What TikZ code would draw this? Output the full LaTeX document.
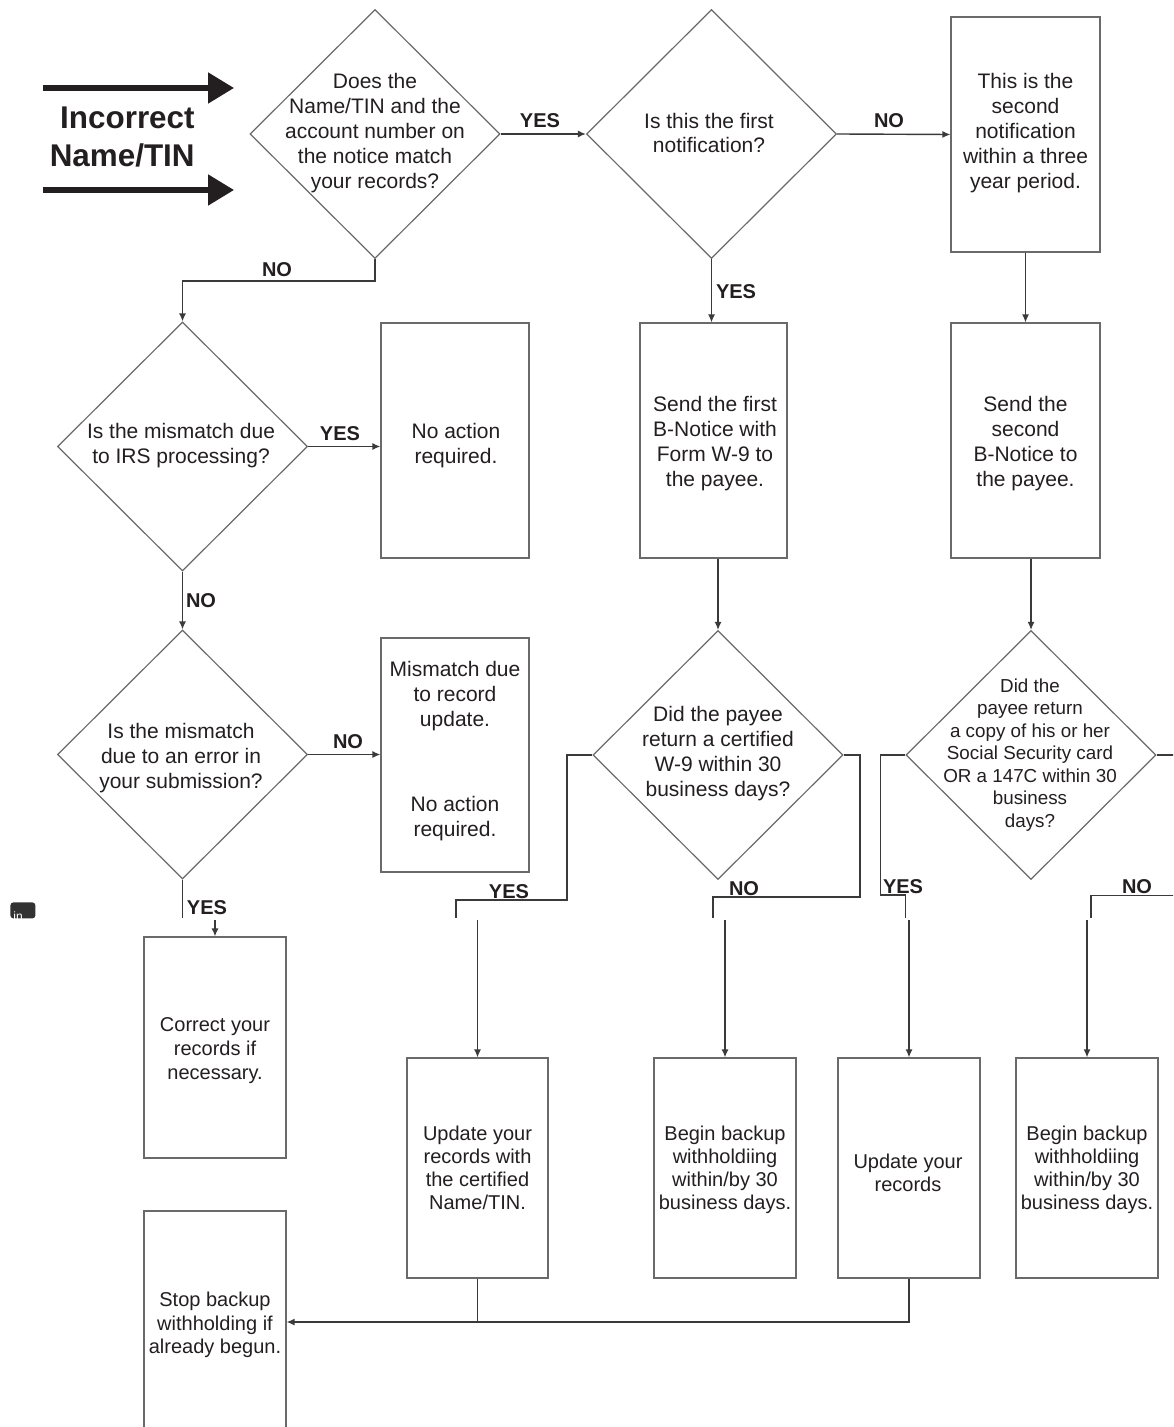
\documentclass[tikz,border=0pt]{standalone}
\usepackage{fontspec}
\setmainfont{Liberation Sans}
\usetikzlibrary{shapes.geometric,arrows.meta}
\definecolor{ink}{HTML}{231F20}
\definecolor{edge}{HTML}{6A6A6A}
\definecolor{wire}{HTML}{3A3A3A}
\begin{document}
\begin{tikzpicture}[x=0.5pt,y=-0.5pt,
  dia/.style={diamond,draw=edge,line width=0.6pt,minimum width=125pt,minimum height=124.5pt,inner sep=0pt},
  box/.style={rectangle,draw=edge,line width=0.6pt,inner sep=0pt},
  txt/.style={align=center,text=ink,inner sep=0pt,font=\fontsize{10.5}{12.5}\selectfont},
  lowtxt/.style={txt,font=\fontsize{10}{11.5}\selectfont},
  lab/.style={text=ink,inner sep=0pt,font=\bfseries\fontsize{10}{12}\selectfont},
  wire/.style={draw=wire,line width=0.7pt},
  arr/.style={wire,-{Latex[length=4pt,width=3.5pt]}},
  bigarrow/.style={draw=ink,line width=2.6pt,-{Triangle[length=13pt,width=15pt]}},
]
\useasboundingbox (0,0) rectangle (1173,1427);
\fill[white] (0,0) rectangle (1173,1427);
\clip (0,0) rectangle (1173,1427);

% title
\coordinate (t1s) at (43,88);
\coordinate (t1e) at (234,88);
\coordinate (t2s) at (43,190);
\coordinate (t2e) at (234,190);
\draw[bigarrow] (t1s) -- (t1e);
\draw[bigarrow] (t2s) -- (t2e);
\node[anchor=east,align=right,text=ink,inner sep=0pt,font=\bfseries\fontsize{15.7}{19}\selectfont] (title) at (195,137) {Incorrect\\Name/TIN};

% small icon
\node[fill={rgb,255:red,50;green,50;blue,50},rounded corners=1.5pt,minimum width=12.5pt,minimum height=8pt,inner sep=0pt,anchor=north west] (inicon) at (10,902) {};
\node[text=white,inner sep=0pt,font=\fontsize{6}{6}\selectfont,anchor=south west] (intext) at (13,921) {in};

% diamonds
\node[dia] (d1) at (375,134) {};
\node[txt] (d1t) at (375,133) {Does the\\Name/TIN and the\\account number on\\the notice match\\your records?};
\node[dia] (d2) at (711.5,134) {};
\node[txt,font=\fontsize{10.5}{12}\selectfont] (d2t) at (709,133) {Is this the first\\notification?};
\node[dia] (d3) at (182.5,446.5) {};
\node[txt] (d3t) at (181,446) {Is the mismatch due\\to IRS processing?};
\node[dia] (d4) at (182.5,754.5) {};
\node[txt] (d4t) at (181,758) {Is the mismatch\\due to an error in\\your submission?};
\node[dia] (d5) at (718,755) {};
\node[txt] (d5t) at (718,754) {Did the payee\\return a certified\\W-9 within 30\\business days?};
\node[dia] (d6) at (1031,755) {};
\node[txt,font=\fontsize{9.4}{11.25}\selectfont] (d6t) at (1030,755) {Did the\\payee return\\a copy of his or her\\Social Security card\\OR a 147C within 30\\business\\days?};

% boxes
\node[box,minimum width=74.5pt,minimum height=117.5pt] (b1) at (1025.5,134.5) {};
\node[txt] (b1t) at (1025.5,133) {This is the\\second\\notification\\within a three\\year period.};
\node[box,minimum width=74pt,minimum height=117.5pt] (b2) at (455,440.5) {};
\node[txt] (b2t) at (456,445.5) {No action\\required.};
\node[box,minimum width=73.5pt,minimum height=117.5pt] (b3) at (713.5,440.5) {};
\node[txt] (b3t) at (715,443.5) {Send the first\\B-Notice with\\Form W-9 to\\the payee.};
\node[box,minimum width=74.5pt,minimum height=117.5pt] (b4) at (1025.5,440.5) {};
\node[txt] (b4t) at (1025.5,443.5) {Send the\\second\\B-Notice to\\the payee.};
\node[box,minimum width=74pt,minimum height=117pt] (b5) at (455,755) {};
\node[txt] (b5ta) at (455,696) {Mismatch due\\to record\\update.};
\node[txt] (b5tb) at (455,818.5) {No action\\required.};
\node[box,minimum width=71pt,minimum height=110.5pt] (b6) at (215,1047.5) {};
\node[txt,font=\fontsize{10}{12}\selectfont] (b6t) at (215,1051) {Correct your\\records if\\necessary.};
\node[box,minimum width=70.5pt,minimum height=110pt] (b7) at (477.5,1168) {};
\node[lowtxt] (b7t) at (477.5,1168) {Update your\\records with\\the certified\\Name/TIN.};
\node[box,minimum width=71pt,minimum height=110pt] (b8) at (725,1168) {};
\node[lowtxt] (b8t) at (725,1170) {Begin backup\\withholdiing\\within/by 30\\business days.};
\node[box,minimum width=71pt,minimum height=110pt] (b9) at (909,1168) {};
\node[lowtxt] (b9t) at (908,1173) {Update your\\records};
\node[box,minimum width=71pt,minimum height=110pt] (b10) at (1087,1168) {};
\node[lowtxt] (b10t) at (1087,1170) {Begin backup\\withholdiing\\within/by 30\\business days.};
\node[box,minimum width=71pt,minimum height=111pt] (b11) at (215,1322) {};
\node[txt,font=\fontsize{10}{11.75}\selectfont] (b11t) at (215,1325) {Stop backup\\withholding if\\already begun.};

% connectors, top part
\draw[arr] (d1.east) -- (d2.west);
\draw[arr] (d2.east) -- (b1.west);
\draw[arr] (d1.south) -- ++(0,22) -| (d3.north);
\draw[arr] (d2.south) -- (d2.south |- b3.north);
\draw[arr] (b1.south) -- (b4.north);
\draw[arr] (d3.east) -- (d3.east -| b2.west);
\draw[arr] (d3.south) -- (d4.north);
\draw[arr] (d4.east) -- (d4.east -| b5.west);
\draw[arr] (b3.south -| d5.north) -- (d5.north);
\draw[arr] (b4.south -| d6.north) -- (d6.north);

% broken connectors (page seam)
\coordinate (c4a) at (182.5,918);
\coordinate (c4b) at (215,920);
\draw[wire] (d4.south) -- (c4a);
\draw[arr] (c4b) -- (b6.north);

\coordinate (y5k) at (567,900);
\coordinate (y5a) at (456,918);
\coordinate (y5b) at (477.5,920);
\draw[wire] (d5.west) -- (d5.west -| y5k) -- (y5k) -| (y5a);
\draw[arr] (y5b) -- (b7.north);

\coordinate (n5k) at (860,897);
\coordinate (n5a) at (713,918);
\coordinate (n5b) at (725,920);
\draw[wire] (d5.east) -- (d5.east -| n5k) -- (n5k) -| (n5a);
\draw[arr] (n5b) -- (b8.north);

\coordinate (y6k) at (880.5,895);
\coordinate (y6a) at (905.5,918);
\coordinate (y6b) at (909,920);
\draw[wire] (d6.west) -- (d6.west -| y6k) -- (y6k) -| (y6a);
\draw[arr] (y6b) -- (b9.north);

\coordinate (n6k) at (1195,895.5);
\coordinate (n6a) at (1091,918);
\coordinate (n6b) at (1087,920);
\draw[wire] (d6.east) -- (d6.east -| n6k) -- (n6k) -| (n6a);
\draw[arr] (n6b) -- (b10.north);

% bottom
\coordinate (m7) at (480,1278);
\draw[wire] (b7.south) -- (b7.south |- b11.east);
\draw[arr] (b9.south) |- (b11.east);

% labels
\node[lab] (l1) at (540,121) {YES};
\node[lab] (l2) at (889,121) {NO};
\node[lab] (l3) at (277,270) {NO};
\node[lab] (l4) at (736,292) {YES};
\node[lab] (l5) at (340,434) {YES};
\node[lab] (l6) at (201,601) {NO};
\node[lab] (l7) at (348,742) {NO};
\node[lab] (l8) at (207,908) {YES};
\node[lab] (l9) at (509,892) {YES};
\node[lab] (l10) at (744,889) {NO};
\node[lab] (l11) at (903,887) {YES};
\node[lab] (l12) at (1137,887) {NO};
\end{tikzpicture}
\end{document}
